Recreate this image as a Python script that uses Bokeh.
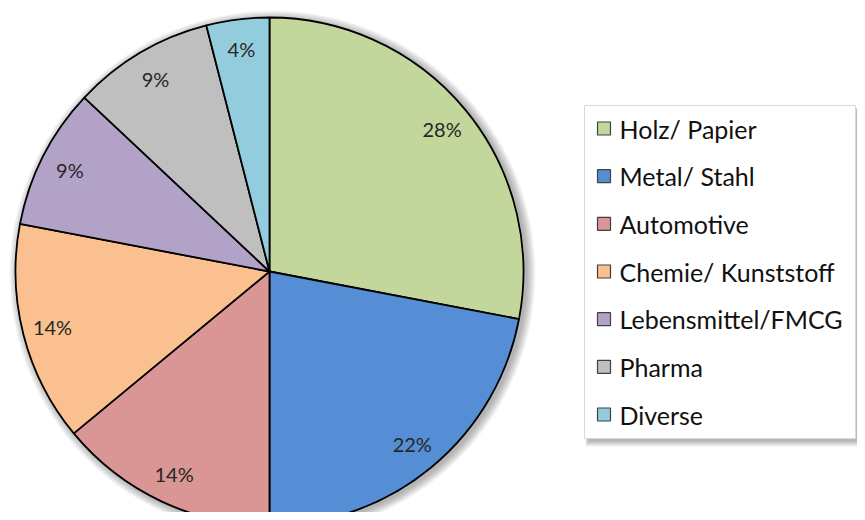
import math
from bokeh.plotting import figure
from bokeh.models import Range1d, ColumnDataSource
from bokeh.core.properties import value
from bokeh.embed import file_html
from bokeh.resources import INLINE

categories = ["Holz/ Papier", "Metal/ Stahl", "Automotive", "Chemie/ Kunststoff",
              "Lebensmittel/FMCG", "Pharma", "Diverse"]
shares = [28, 22, 14, 14, 9, 9, 4]
colors = ["#C3D69B", "#558ED5", "#D99694", "#FAC090", "#B3A2C7", "#BFBFBF", "#93CDDD"]

W, H = 857, 512
p = figure(width=W, height=H, output_backend="svg", toolbar_location=None,
           x_range=Range1d(0, W), y_range=Range1d(0, H), min_border=0)
p.axis.visible = False
p.grid.visible = False
p.outline_line_color = None
p.background_fill_color = "white"
p.border_fill_color = "white"

cx, cy, R = 269, 241, 254
FONT = "Lato"

# pie shadow
for k in range(1, 10):
    p.circle(x=cx + 3, y=cy - 2, radius=R + k, fill_color="black", fill_alpha=0.035, line_color=None)

total = sum(shares)
starts, ends, mids = [], [], []
a = math.pi / 2
for v in shares:
    sweep = 2 * math.pi * v / total
    starts.append(a)
    ends.append(a - sweep)
    mids.append(a - sweep / 2)
    a -= sweep

src = ColumnDataSource(dict(start=starts, end=ends, color=colors, cat=categories))
p.wedge(x=cx, y=cy, radius=R, start_angle="start", end_angle="end", direction="clock",
        fill_color="color", line_color="black", line_width=1.8, source=src)

lr = 224
lab = ColumnDataSource(dict(
    x=[cx + lr * math.cos(m) for m in mids],
    y=[cy + lr * math.sin(m) for m in mids],
    t=[f"{v}%" for v in shares]))
p.text(x="x", y="y", text="t", source=lab, text_align="center", text_baseline="middle",
       text_font=value(FONT), text_font_size="20px", text_color="#262626")

# legend box
lx0, lx1, ly_top, ly_bot = 584, 855, 407, 74
for k in range(1, 7):
    p.quad(left=lx0 + 4 - k * 0.5, right=lx1 + 1 + k * 0.3, top=ly_top - 4 + k * 0.3, bottom=ly_bot - 2 - k,
           fill_color="black", fill_alpha=0.05, line_color=None)
p.quad(left=lx0, right=lx1, top=ly_top, bottom=ly_bot, fill_color="white",
       line_color="#D9D9D9", line_width=1)

row0, step = 384, 47.67
leg = ColumnDataSource(dict(
    y=[row0 - i * step for i in range(len(categories))],
    cat=categories, color=colors))
p.rect(x=603.5, y="y", width=13, height=13, fill_color="color", line_color="#404040",
       line_width=1.2, source=leg)
p.text(x=619, y="y", text="cat", source=leg, text_align="left", text_baseline="middle",
       text_font=value(FONT), text_font_size="25px", text_color="#111111")

open("out.html", "w").write(file_html(p, INLINE))
